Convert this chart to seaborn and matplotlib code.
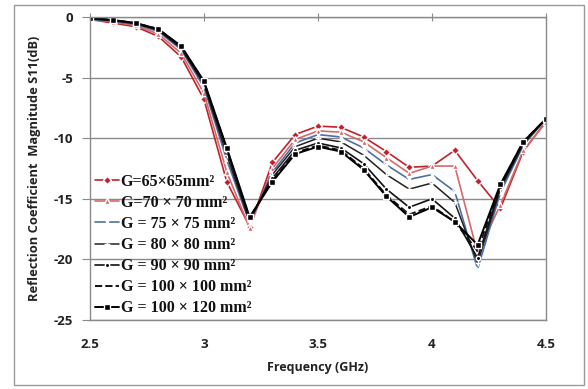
import matplotlib
matplotlib.use("Agg")
import matplotlib.pyplot as plt
import seaborn as sns
import pandas as pd
from matplotlib.patches import Rectangle

freq = [2.5, 2.6, 2.7, 2.8, 2.9, 3.0, 3.1, 3.2, 3.3, 3.4, 3.5,
        3.6, 3.7, 3.8, 3.9, 4.0, 4.1, 4.2, 4.3, 4.4, 4.5]

g65 = [-0.2, -0.5, -0.8, -1.6, -3.3, -6.8, -13.6, -17.3, -12.0, -9.7, -9.0,
       -9.1, -9.9, -11.1, -12.4, -12.3, -11.0, -13.5, -15.8, -11.1, -8.6]
g70 = [-0.2, -0.4, -0.7, -1.4, -3.0, -6.3, -12.8, -17.4, -12.5, -10.1, -9.4,
       -9.5, -10.3, -11.6, -12.9, -12.3, -12.3, -19.5, -15.5, -11.0, -8.7]
g75 = [-0.2, -0.35, -0.6, -1.2, -2.7, -5.8, -11.8, -17.0, -12.8, -10.4, -9.7,
       -9.9, -10.8, -12.2, -13.4, -13.0, -14.4, -20.8, -14.5, -10.6, -8.4]
g80 = [-0.15, -0.3, -0.55, -1.1, -2.6, -5.6, -11.4, -16.9, -13.0, -10.7, -10.0,
       -10.3, -11.4, -13.0, -14.2, -13.7, -15.3, -20.3, -14.2, -10.5, -8.4]
g90 = [-0.1, -0.25, -0.5, -1.05, -2.5, -5.4, -11.0, -16.7, -13.3, -11.0, -10.4,
       -10.8, -12.1, -14.2, -15.7, -15.0, -16.6, -19.9, -14.0, -10.4, -8.4]
g100 = [-0.1, -0.25, -0.5, -1.0, -2.45, -5.35, -10.9, -16.6, -13.5, -11.2, -10.6,
        -11.0, -12.5, -14.7, -16.3, -15.6, -16.9, -19.3, -13.9, -10.3, -8.4]
g120 = [-0.1, -0.25, -0.5, -1.0, -2.4, -5.3, -10.8, -16.5, -13.6, -11.3, -10.7,
        -11.1, -12.6, -14.8, -16.5, -15.7, -16.9, -18.8, -13.8, -10.3, -8.4]

labels = ["G=65×65mm²", "G=70 × 70 mm²", "G = 75 × 75 mm²", "G = 80 × 80 mm²",
          "G = 90 × 90 mm²", "G = 100 × 100 mm²", "G = 100 × 120 mm²"]
series = [g65, g70, g75, g80, g90, g100, g120]

xticks = [2.5, 3.0, 3.5, 4.0, 4.5]
xticklabels = ["2.5", "3", "3.5", "4", "4.5"]
yticks = [0, -5, -10, -15, -20, -25]

styles = [
    dict(color="#C0212B", marker="D", markersize=4.5, linestyle="-", linewidth=1.2),
    dict(color="#D46A6A", marker="^", markersize=4, linestyle="-", linewidth=1.2),
    dict(color="#4E6FA6", marker="x", markersize=4, linestyle="-", linewidth=1.2),
    dict(color="#222222", marker="+", markersize=4, linestyle="-", linewidth=1.1),
    dict(color="#111111", marker="o", markersize=3.2, linestyle="-", linewidth=1.2),
    dict(color="#111111", marker=None, linestyle="--", linewidth=1.4),
    dict(color="#000000", marker="s", markersize=4.5, linestyle="-", linewidth=1.4),
]

sns.set_style("white")
plt.rcParams["font.family"] = ["Open Sans", "DejaVu Sans"]
plt.rcParams["axes.unicode_minus"] = False

fig = plt.figure(figsize=(5.88, 3.89), dpi=100)
ax = fig.add_axes([90 / 588, 1 - 320 / 389, (546 - 90) / 588, (320 - 17) / 389])

for lab, vals, st in zip(labels, series, styles):
    df = pd.DataFrame({"f": freq, "s": vals})
    sns.lineplot(data=df, x="f", y="s", ax=ax, label=lab, markeredgewidth=1.0,
                 **st)

ax.set_xlim(2.5, 4.5)
ax.set_ylim(-25, 0)
ax.set_xticks(xticks)
ax.set_xticklabels(xticklabels)
ax.set_yticks(yticks)
ax.yaxis.grid(True, color="#8a8a8a", linewidth=1.0)
ax.xaxis.grid(False)
for s in ax.spines.values():
    s.set_color("#8a8a8a")
    s.set_linewidth(1.0)

ax.tick_params(axis="x", bottom=False, top=True, labelbottom=True, labeltop=False,
               direction="inout", length=6, color="#8a8a8a", pad=10)
ax.tick_params(axis="y", left=True, direction="out", length=6, color="#8a8a8a", pad=6)
for t in ax.get_xticklabels() + ax.get_yticklabels():
    t.set_fontweight("bold")
    t.set_fontsize(9.5)
    t.set_color("#222222")

ax.set_xlabel("Frequency (GHz)", fontsize=9, fontweight="bold", color="#222222", labelpad=7)
ax.set_ylabel("Reflection Coefficient  Magnitude S11(dB)", fontsize=9.3,
              fontweight="bold", color="#222222", labelpad=9)

leg = ax.legend(loc="lower left", bbox_to_anchor=(-0.01, -0.02), frameon=False,
                prop={"family": "Liberation Serif", "weight": "bold", "size": 11.5},
                handlelength=1.5, handletextpad=0.1, labelspacing=0.32,
                borderaxespad=0.2)
for t in leg.get_texts():
    t.set_color("#111111")

fig.patches.append(Rectangle((14 / 588, 4 / 389), (584 - 14) / 588, (384 - 4) / 389,
                             transform=fig.transFigure, fill=False,
                             edgecolor="#9a9a9a", linewidth=1.0))

fig.savefig("out.png", dpi=100)
